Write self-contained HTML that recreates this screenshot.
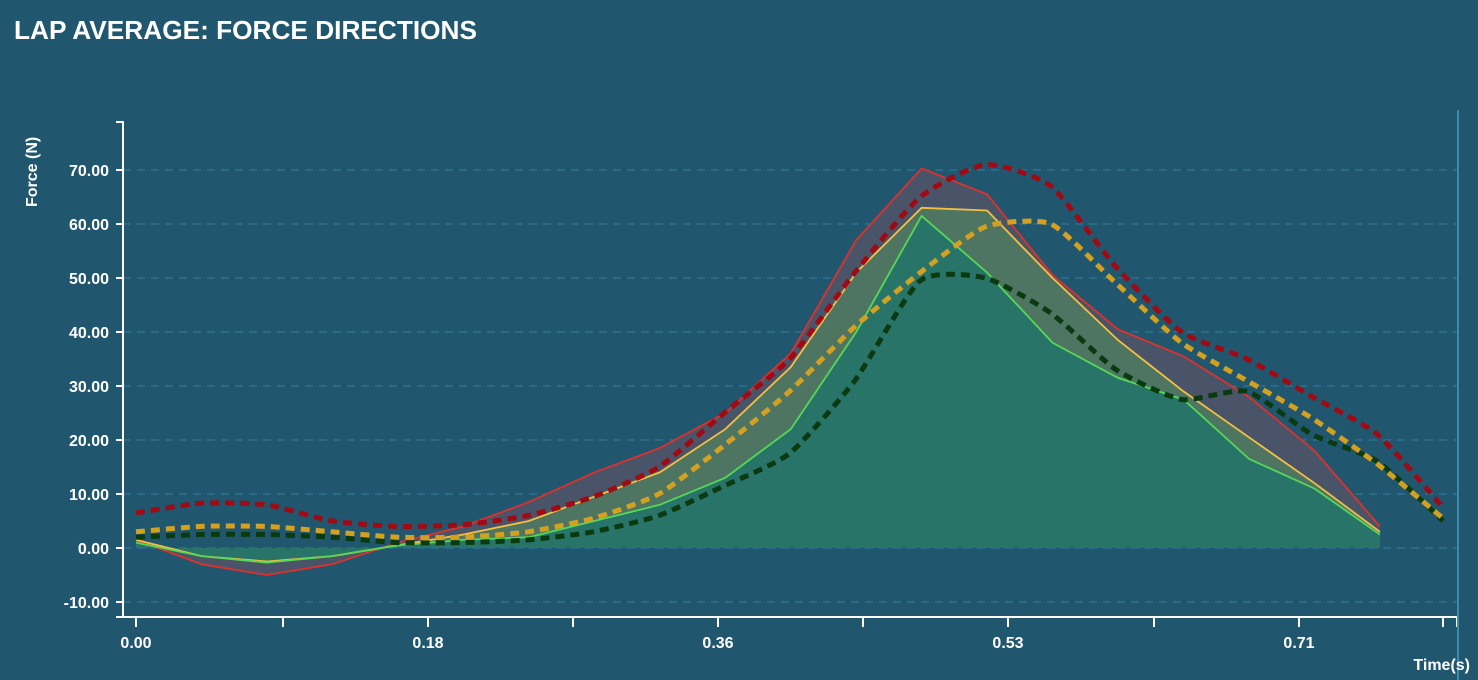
<!DOCTYPE html>
<html><head><meta charset="utf-8"><style>
html,body{margin:0;padding:0;background:#20566e;width:1478px;height:680px;overflow:hidden}
text{font-family:"Liberation Sans",sans-serif;fill:#fff}
</style></head><body>
<svg id="s" width="1478" height="680" xmlns="http://www.w3.org/2000/svg">
<text x="14" y="39" font-size="25.5" font-weight="bold" textLength="463" lengthAdjust="spacingAndGlyphs">LAP AVERAGE: FORCE DIRECTIONS</text>
<g id="grid"></g>
<g id="areas"></g>
<g id="lines"></g>
<g id="axes" stroke="#fff" stroke-width="2" fill="none">
<path d="M116,122H123V617H116"/>
<path d="M123,617H1458"/>
</g>
<line x1="1458" y1="110" x2="1458" y2="680" stroke="#3a8aaa" stroke-width="2"/>
<g id="lbl"></g>
<text transform="translate(37,207) rotate(-90)" font-size="16" font-weight="bold" text-anchor="start">Force (N)</text>
<text x="1470" y="670" font-size="16" font-weight="bold" text-anchor="end">Time(s)</text>
</svg>
<script>
const ns="http://www.w3.org/2000/svg";
function el(p,t,a,txt){const e=document.createElementNS(ns,t);for(const k in a)e.setAttribute(k,a[k]);if(txt!=null)e.textContent=txt;document.getElementById(p).appendChild(e);return e;}
const Y=v=>548-v*5.4;
for(let v=-10;v<=70;v+=10){
 el("grid","line",{x1:123,x2:1458,y1:Y(v),y2:Y(v),stroke:"#2f7fa0","stroke-width":1,"stroke-dasharray":"8,6"});
 el("axes","line",{x1:116,x2:123,y1:Y(v),y2:Y(v)});
 el("lbl","text",{x:109,y:Y(v)+6,"font-size":16,"font-weight":"bold","text-anchor":"end"},v.toFixed(2));
}
const xt=[136,283,428,573,718,863,1008,1154,1299,1443,1457];
xt.forEach(x=>el("axes","line",{x1:x,x2:x,y1:617,y2:627}));
[[136,"0.00"],[428,"0.18"],[718,"0.36"],[1008,"0.53"],[1299,"0.71"]].forEach(([x,t])=>el("lbl","text",{x:x,y:648,"font-size":16,"font-weight":"bold","text-anchor":"middle"},t));
const X=i=>136+65.47*i;
const red=[1.5,-3,-5,-3,1,4,8.5,14,18.5,25,36,57,70.3,65.5,50.5,40.5,35.5,28,18,4];
const yel=[1.5,-1.5,-2.5,-1.5,0.5,2.5,5,9.5,14,22,33.5,51,63,62.5,50,38.5,29,20.5,12,3];
const grn=[1,-1.5,-2.7,-1.5,0.5,1.5,2,5,8,13,22,40,61.5,51,38,31.5,27.5,16.5,11,2.5];
function poly(a){return a.map((v,i)=>X(i).toFixed(1)+","+Y(v).toFixed(1)).join(" L");}
function area(a,c){el("areas","path",{d:"M"+X(0)+","+Y(0)+" L"+poly(a)+" L"+X(a.length-1)+","+Y(0)+"Z",fill:c});}
area(red,"#4a5468");area(yel,"#4e7462");area(grn,"#287468");
el("lines","path",{d:"M"+poly(red),stroke:"#e0302c","stroke-width":1.8,fill:"none"});
el("lines","path",{d:"M"+poly(yel),stroke:"#f5c040","stroke-width":1.8,fill:"none"});
el("lines","path",{d:"M"+poly(grn),stroke:"#55d855","stroke-width":1.8,fill:"none"});
const rd=[6.5,8.3,8,5,4,4.3,6,9.5,15,25,35,51,65,71,67,52,40,35,28,21,7.5];
const yd=[3,4,4,3,2,2,3,5.5,10,19,29,41,51,59.5,60,49,38,31,24,15.5,5.5];
const gd=[2,2.5,2.5,2,1,1,1.5,3,6,11.5,17.5,31,49.5,50,43.5,33,27.5,29,21,16,5];
const XD=i=>136+65.35*i;
function smooth(a){const p=a.map((v,i)=>[XD(i),Y(v)]);let d="M"+p[0];for(let i=0;i<p.length-1;i++){const p0=p[Math.max(0,i-1)],p1=p[i],p2=p[i+1],p3=p[Math.min(p.length-1,i+2)];const t=0.1;d+=" C"+(p1[0]+(p2[0]-p0[0])*t)+","+(p1[1]+(p2[1]-p0[1])*t)+" "+(p2[0]-(p3[0]-p1[0])*t)+","+(p2[1]-(p3[1]-p1[1])*t)+" "+p2[0]+","+p2[1];}return d;}
[[gd,"#0a3a10"],[yd,"#d4a020"],[rd,"#a00a14"]].forEach(([a,c])=>el("lines","path",{d:smooth(a),stroke:c,"stroke-width":5,fill:"none","stroke-dasharray":"9,6"}));
</script>
</body></html>
